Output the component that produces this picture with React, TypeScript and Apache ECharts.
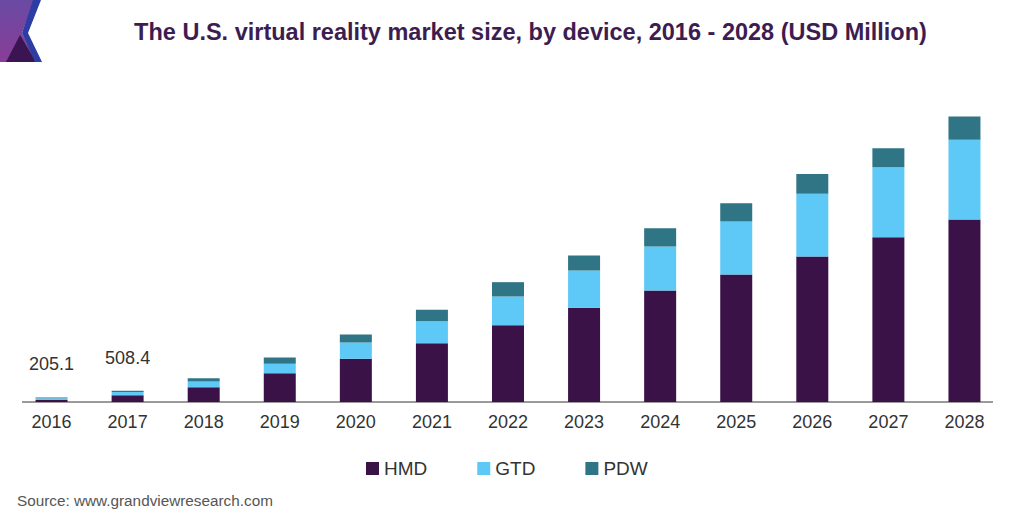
import React, { useEffect, useRef } from "react";
import * as echarts from "echarts";

const years = ["2016", "2017", "2018", "2019", "2020", "2021", "2022", "2023", "2024", "2025", "2026", "2027", "2028"];
const hmd = [95.0, 305.0, 666, 1296, 1944, 2646, 3456, 4239, 5018, 5738, 6548, 7416, 8213];
const gtd = [70.0, 141.0, 257, 423, 734, 990, 1292, 1679, 1980, 2385, 2822, 3150, 3587];
const pdw = [40.1, 62.4, 149, 284, 360, 513, 644, 675, 824, 824, 891, 855, 1049];
const totalLabels = ["205.1", "508.4", "", "", "", "", "", "", "", "", "", "", ""];

const FONT = "'Liberation Sans', Arial, Helvetica, sans-serif";

export default function App() {
  const ref = useRef<HTMLDivElement>(null);
  useEffect(() => {
    document.body.style.margin = "0";
    if (!ref.current) return;
    const chart = echarts.init(ref.current, undefined, { renderer: "svg" });
    chart.setOption({
      animation: false,
      backgroundColor: "#ffffff",
      textStyle: { fontFamily: FONT },
      grid: { left: 13.5, right: 21.5, top: 102, bottom: 120, containLabel: false },
      legend: {
        data: ["HMD", "GTD", "PDW"],
        left: 361,
        top: 454,
        icon: "rect",
        itemWidth: 13,
        itemHeight: 13,
        itemGap: 50,
        textStyle: { fontSize: 19, color: "#333333", fontFamily: FONT },
      },
      xAxis: {
        type: "category",
        data: years,
        axisLine: { show: false },
        axisTick: { show: false },
        axisLabel: { fontSize: 18, color: "#333333", margin: 11, fontFamily: FONT },
      },
      yAxis: {
        type: "value",
        min: 0,
        max: 13500,
        show: false,
        splitLine: { show: false },
      },
      series: [
        { name: "HMD", type: "bar", stack: "t", barWidth: 32, data: hmd, itemStyle: { color: "#3a1248" } },
        { name: "GTD", type: "bar", stack: "t", barWidth: 32, data: gtd, itemStyle: { color: "#5ec9f6" } },
        {
          name: "PDW",
          type: "bar",
          stack: "t",
          barWidth: 32,
          itemStyle: { color: "#2f7585" },
          data: pdw.map((v, i) => ({
            value: v,
            label: {
              show: totalLabels[i] !== "",
              position: "top",
              distance: 24,
              formatter: totalLabels[i],
              fontSize: 18,
              color: "#333333",
              fontFamily: FONT,
            },
          })),
        },
      ],
      graphic: [
        {
          type: "polygon",
          shape: { points: [[0, 0], [34, 0], [22, 33], [36, 62], [0, 62]] },
          style: {
            fill: new echarts.graphic.LinearGradient(0, 0, 0, 1, [
              { offset: 0, color: "#6a4aa3" },
              { offset: 1, color: "#8a3d97" },
            ]),
          },
        },
        {
          type: "polygon",
          shape: { points: [[20, 35], [36, 62], [6, 62]] },
          style: { fill: "#3b1552" },
        },
        {
          type: "polygon",
          shape: { points: [[33, 0], [41, 0], [28, 33], [42, 62], [35, 62], [22, 33]] },
          style: { fill: "#2c3ea3" },
        },
        {
          type: "line",
          shape: { x1: 36, y1: 63, x2: 1016, y2: 63 },
          style: {
            lineWidth: 2,
            stroke: new echarts.graphic.LinearGradient(0, 0, 1, 0, [
              { offset: 0, color: "#2c3ea3" },
              { offset: 0.15, color: "#6f55b5" },
              { offset: 1, color: "#9460bc" },
            ]),
          },
        },
        {
          type: "text",
          x: 530.5,
          y: 32,
          style: {
            text: "The U.S. virtual reality market size, by device, 2016 - 2028 (USD Million)",
            font: `bold 23.5px ${FONT}`,
            fill: "#3d1d50",
            textAlign: "center",
            textVerticalAlign: "middle",
          },
        },
        {
          type: "line",
          shape: { x1: 22, y1: 402, x2: 993, y2: 402 },
          style: { lineWidth: 2, stroke: "#9a9a9a" },
        },
        {
          type: "text",
          x: 17,
          y: 500,
          style: {
            text: "Source: www.grandviewresearch.com",
            font: `15.3px ${FONT}`,
            fill: "#555555",
            textAlign: "left",
            textVerticalAlign: "middle",
          },
        },
      ],
    });
    return () => chart.dispose();
  }, []);
  return <div ref={ref} style={{ width: 1024, height: 522 }} />;
}
